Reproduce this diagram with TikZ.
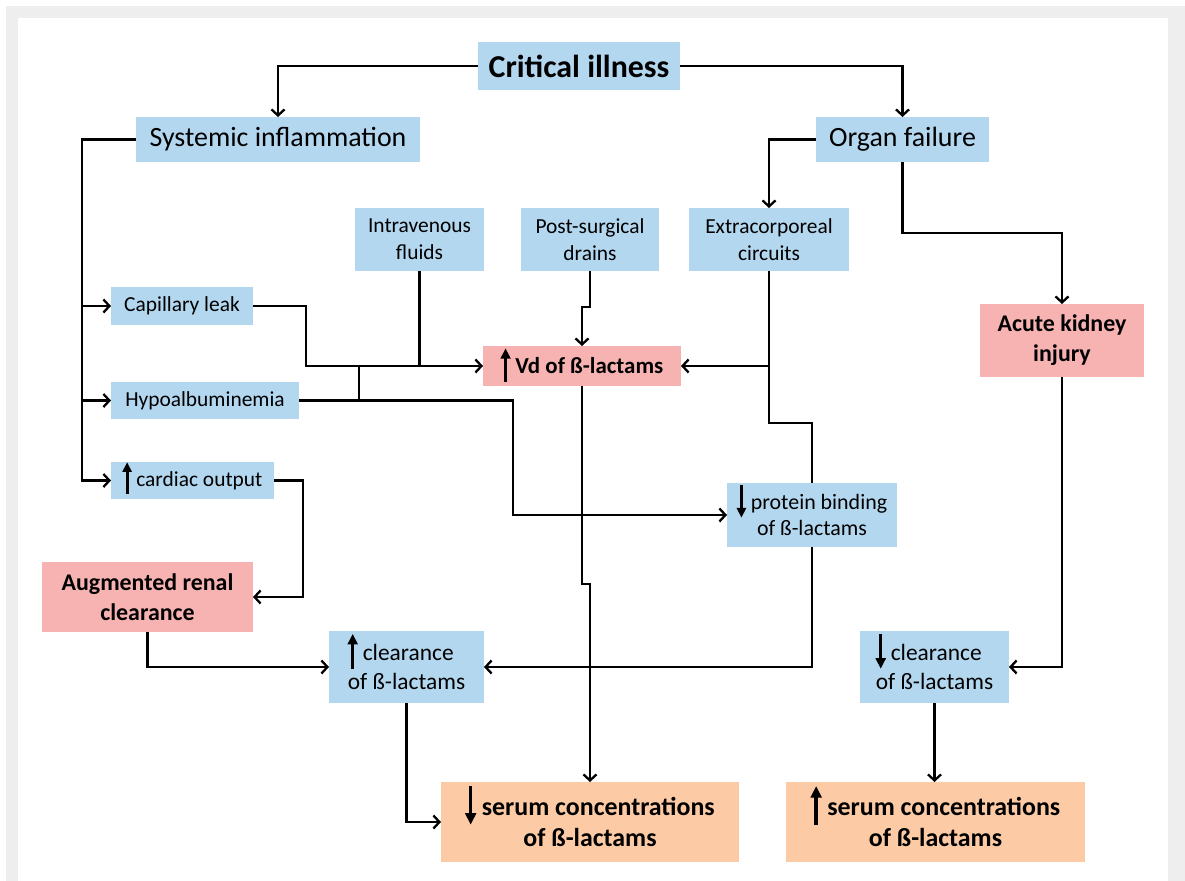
\documentclass[tikz,border=0pt]{standalone}
\usepackage{fontspec}
\setmainfont{Carlito}
\usetikzlibrary{arrows.meta}
\definecolor{cblue}{HTML}{B4D7F0}
\definecolor{cpink}{HTML}{F7B2B2}
\definecolor{cpeach}{HTML}{FCCBA5}
\definecolor{cframe}{HTML}{EEEEEE}
\newcommand{\fsz}[2]{\fontsize{#1}{#2}\selectfont}
\newcommand{\uarr}{\smash{\tikz[x=1pt,y=1pt,baseline=0pt]\draw[black,line width=0.13em,-{Triangle[length=0.45em,width=0.42em]}] (0,-0.37em) -- (0,1.12em);}\hspace{0.22em}}
\newcommand{\darr}{\smash{\tikz[x=1pt,y=1pt,baseline=0pt]\draw[black,line width=0.13em,-{Triangle[length=0.45em,width=0.42em]}] (0,1.12em) -- (0,-0.37em);}\hspace{0.22em}}
\begin{document}
\begin{tikzpicture}[x=1bp,y=-1bp,
  bx/.style 2 args={minimum width=#1bp, minimum height=#2bp, inner sep=0pt, outer sep=0pt, draw=none},
  bl/.style={fill=cblue, align=center},
  pk/.style={fill=cpink, align=center},
  pc/.style={fill=cpeach, align=center},
  ln/.style={line width=2.3bp, black},
  arr/.style={ln, -{Straight Barb[length=6bp,width=13bp,line width=2.3bp]}}]
\useasboundingbox (0,0) rectangle (1185,881);
\fill[white] (0,0) rectangle (1185,881);
\fill[cframe] (6,6) rectangle (1185,881);
\fill[white] (18,18) rectangle (1168,881);

% nodes
\node[bl, bx={202}{48}, font={\fsz{32}{38}\bfseries}] (crit) at (579,66) {Critical illness};
\node[bl, bx={284}{45}, font={\fsz{28}{34}}] (sys) at (278,139.5) {Systemic inflammation};
\node[bl, bx={173}{45}, font={\fsz{28}{34}}] (org) at (902.5,139.5) {Organ failure};
\node[bl, bx={129}{63}, font={\fsz{21.5}{27}}] (ivf) at (419.5,239.5) {Intravenous\\ fluids};
\node[bl, bx={138}{63}, font={\fsz{21.5}{27}}] (psd) at (590,239.5) {Post-surgical\\ drains};
\node[bl, bx={160}{63}, font={\fsz{21.5}{27}}] (ecc) at (769,239.5) {Extracorporeal\\ circuits};
\node[bl, bx={142}{38}, font={\fsz{21.5}{27}}] (cap) at (182,306) {Capillary leak};
\node[pk, bx={198}{40}, font={\fsz{23}{28}\bfseries}] (vd) at (582,366) {\uarr Vd of ß-lactams};
\node[pk, bx={164}{73}, font={\fsz{24}{30}\bfseries}] (aki) at (1062,340.5) {Acute kidney\\ injury};
\node[bl, bx={188}{37}, font={\fsz{21.5}{27}}] (hyp) at (205,400.5) {Hypoalbuminemia};
\node[bl, bx={163}{37}, font={\fsz{21.5}{27}}] (co) at (192.5,480.5) {\uarr cardiac output};
\node[bl, bx={170}{64}, font={\fsz{22}{26}}] (pb) at (812,515) {\darr protein binding\\ of ß-lactams};
\node[pk, bx={211}{70}, font={\fsz{24}{30}\bfseries}] (arc) at (147.5,597) {Augmented renal\\ clearance};
\node[bl, bx={155}{72}, align=left, font={\fsz{23.5}{30}}] (cl1) at (406.5,667) {\uarr clearance\\ of ß-lactams};
\node[bl, bx={149}{72}, align=left, font={\fsz{23.5}{30}}] (cl2) at (934.5,667) {\darr clearance\\ of ß-lactams};
\node[pc, bx={298}{80}, font={\fsz{26}{32}\bfseries}] (s1) at (590,822) {\darr serum concentrations\\ of ß-lactams};
\node[pc, bx={299}{80}, font={\fsz{26}{32}\bfseries}] (s2) at (935.5,822) {\uarr serum concentrations\\ of ß-lactams};

% junction coordinates
\coordinate (jl) at (82,139.5);
\coordinate (jcap) at (82,306);
\coordinate (jhyp) at (82,400.5);

% connectors
\draw[arr] (crit.west) -| (sys.north);
\draw[arr] (crit.east) -| (org.north);
\draw[arr] (sys.west) -- (jl) |- (co.west);
\draw[arr] (jcap) -- (cap.west);
\draw[arr] (jhyp) -- (hyp.west);
\draw[arr] (org.west) -| (ecc.north);
\draw[arr] (org.south) -- ++(0,71) -| (aki.north);
\draw[arr] (cap.east) -| (306,366) -- (vd.west);
\draw[ln] (ivf.south) -- (ivf.south |- vd.west);
\draw[arr] (psd.south) -- ++(0,36) -| (vd.north);
\draw[ln] (hyp.east) -| (359,366);
\draw[arr] (hyp.east) -| (513,515) -- (pb.west);
\draw[arr] (ecc.south) |- (vd.east);
\draw[ln] (ecc.south) -- ++(0,152) -| (pb.north);
\draw[arr] (pb.south) |- (cl1.east);
\draw[arr] (vd.south) -- ++(0,198) -| (s1.north);
\draw[arr] (co.east) -| (303,597) -- (arc.east);
\draw[arr] (arc.south) |- (cl1.west);
\draw[arr] (cl1.south) |- (s1.west);
\draw[arr] (aki.south) |- (cl2.east);
\draw[arr] (cl2.south) -- (cl2.south |- s2.north);
\end{tikzpicture}
\end{document}
